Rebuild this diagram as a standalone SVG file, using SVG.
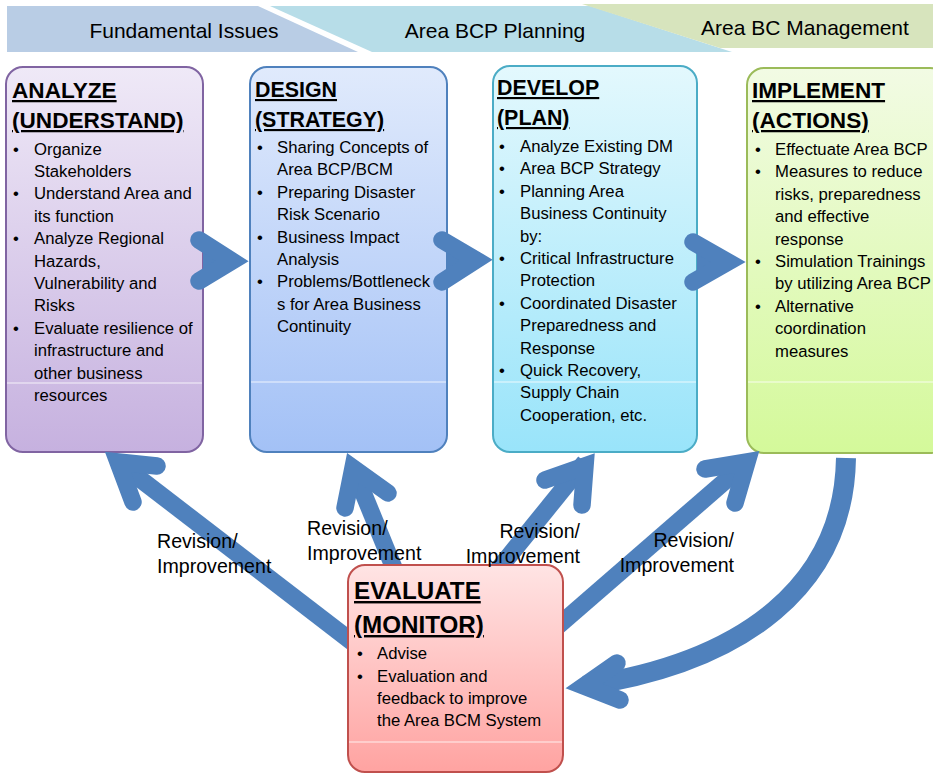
<svg xmlns="http://www.w3.org/2000/svg" width="933" height="774" viewBox="0 0 933 774">
<style>
  text { font-family: "Liberation Sans", Arial, sans-serif; fill: #000; }
  .hdr { font-size: 21px; }
  .ttl { font-size: 21.4px; font-weight: bold; text-decoration: underline; }
  .ttlb { font-size: 22.6px; font-weight: bold; text-decoration: underline; }
  .ttl2 { font-size: 24.2px; font-weight: bold; text-decoration: underline; }
  .body { font-size: 16.7px; }
  .lbl { font-size: 19.6px; }
  .box { stroke-width: 2; }
  .gloss { stroke: #ffffff; stroke-opacity: 0.8; stroke-width: 1.2; }
  .arr { fill: none; stroke: #4f81bd; stroke-width: 17.5; }
  .head { fill: none; stroke: #4f81bd; stroke-width: 17.5; stroke-linecap: round; stroke-linejoin: miter; stroke-miterlimit: 6; }
</style>
<defs>
  <linearGradient id="gA" x1="0" y1="0" x2="0" y2="1"><stop offset="0" stop-color="#efe9f7"/><stop offset="1" stop-color="#c6b1df"/></linearGradient>
  <linearGradient id="gD" x1="0" y1="0" x2="0" y2="1"><stop offset="0" stop-color="#e0eafc"/><stop offset="1" stop-color="#a3c1f6"/></linearGradient>
  <linearGradient id="gV" x1="0" y1="0" x2="0" y2="1"><stop offset="0" stop-color="#e3f8fd"/><stop offset="1" stop-color="#99e4fa"/></linearGradient>
  <linearGradient id="gI" x1="0" y1="0" x2="0" y2="1"><stop offset="0" stop-color="#f2fbe4"/><stop offset="1" stop-color="#d4f99a"/></linearGradient>
  <linearGradient id="gE" x1="0" y1="0" x2="0" y2="1"><stop offset="0" stop-color="#ffe4e4"/><stop offset="1" stop-color="#ffa3a1"/></linearGradient>
</defs>

<g id="header">
  <polygon points="7,6 258,6 358,52 7,52" fill="#b9cde5"/>
  <polygon points="270,6 590,6 732,52 372,52" fill="#b7dde8"/>
  <polygon points="582,4 933,4 933,48 720,48" fill="#d7e4bd"/>
  <text class="hdr" x="184" y="38" text-anchor="middle">Fundamental Issues</text>
  <text class="hdr" x="495" y="38" text-anchor="middle">Area BCP Planning</text>
  <text class="hdr" x="805" y="35" text-anchor="middle">Area BC Management</text>
</g>

<g id="analyze">
  <rect class="box" x="6" y="67" width="197" height="385" rx="17" fill="url(#gA)" stroke="#8064a2"/>
  <line class="gloss" x1="7" y1="383" x2="202" y2="383"/>
  <text class="ttlb" x="12" y="98">ANALYZE</text>
  <text class="ttlb" x="12" y="128">(UNDERSTAND)</text>
  <text class="body" x="13" y="154.6">•</text><text class="body" x="34" y="154.6">Organize</text>
  <text class="body" x="34" y="177">Stakeholders</text>
  <text class="body" x="13" y="199.4">•</text><text class="body" x="34" y="199.4">Understand Area and</text>
  <text class="body" x="34" y="221.8">its function</text>
  <text class="body" x="13" y="244.2">•</text><text class="body" x="34" y="244.2">Analyze Regional</text>
  <text class="body" x="34" y="266.6">Hazards,</text>
  <text class="body" x="34" y="289">Vulnerability and</text>
  <text class="body" x="34" y="311.4">Risks</text>
  <text class="body" x="13" y="333.8">•</text><text class="body" x="34" y="333.8">Evaluate resilience of</text>
  <text class="body" x="34" y="356.2">infrastructure and</text>
  <text class="body" x="34" y="378.6">other business</text>
  <text class="body" x="34" y="401">resources</text>
</g>

<g id="design">
  <rect class="box" x="250" y="67" width="197" height="385" rx="17" fill="url(#gD)" stroke="#4f81bd"/>
  <line class="gloss" x1="251" y1="382" x2="446" y2="382"/>
  <text class="ttl" x="255" y="97">DESIGN</text>
  <text class="ttl" x="255" y="127">(STRATEGY)</text>
  <text class="body" x="257" y="153">•</text><text class="body" x="277" y="153">Sharing Concepts of</text>
  <text class="body" x="277" y="175.4">Area BCP/BCM</text>
  <text class="body" x="257" y="197.8">•</text><text class="body" x="277" y="197.8">Preparing Disaster</text>
  <text class="body" x="277" y="220.2">Risk Scenario</text>
  <text class="body" x="257" y="242.6">•</text><text class="body" x="277" y="242.6">Business Impact</text>
  <text class="body" x="277" y="265">Analysis</text>
  <text class="body" x="257" y="287.4">•</text><text class="body" x="277" y="287.4">Problems/Bottleneck</text>
  <text class="body" x="277" y="309.8">s for Area Business</text>
  <text class="body" x="277" y="332.2">Continuity</text>
</g>

<g id="develop">
  <rect class="box" x="493" y="66" width="204" height="386" rx="17" fill="url(#gV)" stroke="#4bacc6"/>
  <line class="gloss" x1="494" y1="382" x2="696" y2="382"/>
  <text class="ttl" x="497" y="95">DEVELOP</text>
  <text class="ttl" x="497" y="125">(PLAN)</text>
  <text class="body" x="499" y="152">•</text><text class="body" x="520" y="152">Analyze Existing DM</text>
  <text class="body" x="499" y="174.4">•</text><text class="body" x="520" y="174.4">Area BCP Strategy</text>
  <text class="body" x="499" y="196.8">•</text><text class="body" x="520" y="196.8">Planning Area</text>
  <text class="body" x="520" y="219.2">Business Continuity</text>
  <text class="body" x="520" y="241.6">by:</text>
  <text class="body" x="499" y="264">•</text><text class="body" x="520" y="264">Critical Infrastructure</text>
  <text class="body" x="520" y="286.4">Protection</text>
  <text class="body" x="499" y="308.8">•</text><text class="body" x="520" y="308.8">Coordinated Disaster</text>
  <text class="body" x="520" y="331.2">Preparedness and</text>
  <text class="body" x="520" y="353.6">Response</text>
  <text class="body" x="499" y="376">•</text><text class="body" x="520" y="376">Quick Recovery,</text>
  <text class="body" x="520" y="398.4">Supply Chain</text>
  <text class="body" x="520" y="420.8">Cooperation, etc.</text>
</g>

<g id="implement">
  <rect class="box" x="747" y="68" width="200" height="385" rx="17" fill="url(#gI)" stroke="#9bbb59"/>
  <line class="gloss" x1="748" y1="382" x2="933" y2="382"/>
  <text class="ttlb" x="752" y="98">IMPLEMENT</text>
  <text class="ttlb" x="752" y="128">(ACTIONS)</text>
  <text class="body" x="755" y="155">•</text><text class="body" x="775" y="155">Effectuate Area BCP</text>
  <text class="body" x="755" y="177.4">•</text><text class="body" x="775" y="177.4">Measures to reduce</text>
  <text class="body" x="775" y="199.8">risks, preparedness</text>
  <text class="body" x="775" y="222.2">and effective</text>
  <text class="body" x="775" y="244.6">response</text>
  <text class="body" x="755" y="267">•</text><text class="body" x="775" y="267">Simulation Trainings</text>
  <text class="body" x="775" y="289.4">by utilizing Area BCP</text>
  <text class="body" x="755" y="311.8">•</text><text class="body" x="775" y="311.8">Alternative</text>
  <text class="body" x="775" y="334.2">coordination</text>
  <text class="body" x="775" y="356.6">measures</text>
</g>

<g id="connectors">
  <line class="arr" x1="203" y1="261" x2="232" y2="261"/>
  <polyline class="head" points="199,240 232,261 199,281"/>
  <line class="arr" x1="447" y1="260" x2="476" y2="260"/>
  <polyline class="head" points="442,240 476,260 442,282"/>
  <line class="arr" x1="697" y1="262" x2="728" y2="262"/>
  <polyline class="head" points="693,242 728,262 693,282"/>
  <line class="arr" x1="118" y1="462" x2="360" y2="648"/>
  <polyline class="head" points="157,466 118,462 133,502"/>
  <line class="arr" x1="353" y1="468" x2="398" y2="578"/>
  <polyline class="head" points="345,508 353,468 388,493"/>
  <line class="arr" x1="585" y1="462" x2="488" y2="582"/>
  <polyline class="head" points="545,480 585,466 582,505"/>
  <line class="arr" x1="747" y1="462" x2="550" y2="633"/>
  <polyline class="head" points="705,469 747,462 735,503"/>
  <path class="arr" style="stroke-width:20" d="M846,458 C844,585 745,662 584,686"/>
  <polyline class="head" points="617,663 584,686 620,700"/>
</g>

<g id="evaluate">
  <rect class="box" x="348" y="565" width="215" height="207" rx="17" fill="url(#gE)" stroke="#c0504d"/>
  <line class="gloss" x1="349" y1="742" x2="562" y2="742"/>
  <text class="ttl2" x="354" y="599">EVALUATE</text>
  <text class="ttl2" x="354" y="633">(MONITOR)</text>
  <text class="body" x="357" y="659">•</text><text class="body" x="377" y="659">Advise</text>
  <text class="body" x="357" y="681.5">•</text><text class="body" x="377" y="681.5">Evaluation and</text>
  <text class="body" x="377" y="704">feedback to improve</text>
  <text class="body" x="377" y="726">the Area BCM System</text>
</g>

<g id="labels">
  <text class="lbl" x="157" y="548">Revision/</text>
  <text class="lbl" x="157" y="573">Improvement</text>
  <text class="lbl" x="307" y="535">Revision/</text>
  <text class="lbl" x="307" y="560">Improvement</text>
  <text class="lbl" x="580" y="538" text-anchor="end">Revision/</text>
  <text class="lbl" x="580" y="563" text-anchor="end">Improvement</text>
  <text class="lbl" x="734" y="547" text-anchor="end">Revision/</text>
  <text class="lbl" x="734" y="572" text-anchor="end">Improvement</text>
</g>
</svg>
